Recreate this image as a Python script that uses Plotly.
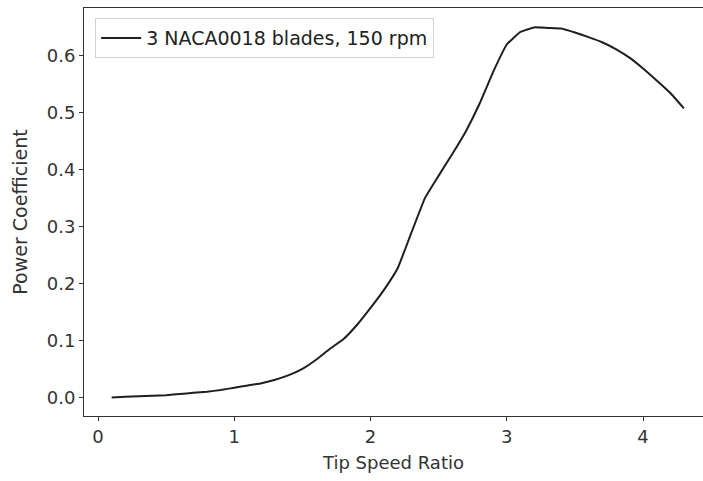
import plotly.graph_objects as go

tsr = [0.1, 0.2, 0.3, 0.4, 0.5, 0.6, 0.7, 0.8, 0.9, 1.0,
       1.1, 1.2, 1.3, 1.4, 1.5, 1.6, 1.7, 1.8, 1.9, 2.0,
       2.1, 2.2, 2.3, 2.4, 2.5, 2.6, 2.7, 2.8, 2.9, 3.0,
       3.1, 3.2, 3.3, 3.4, 3.5, 3.6, 3.7, 3.8, 3.9, 4.0,
       4.1, 4.2, 4.3]
cp = [0.001, 0.002, 0.003, 0.004, 0.005, 0.007, 0.009, 0.011, 0.014, 0.018,
      0.022, 0.026, 0.032, 0.040, 0.051, 0.067, 0.086, 0.103, 0.128, 0.158,
      0.190, 0.228, 0.290, 0.351, 0.390, 0.428, 0.468, 0.516, 0.572, 0.620,
      0.642, 0.650, 0.649, 0.648, 0.641, 0.633, 0.624, 0.612, 0.597, 0.578,
      0.557, 0.535, 0.508]

series_name = "3 NACA0018 blades, 150 rpm"
x_ticks = [0, 1, 2, 3, 4]
y_ticks = [0.0, 0.1, 0.2, 0.3, 0.4, 0.5, 0.6]

font = "DejaVu Sans"
fs = 18
fig = go.Figure()
fig.add_trace(go.Scatter(x=tsr, y=cp, mode="lines", name=series_name,
                         line=dict(color="#1f1f1f", width=2, shape="spline", smoothing=0.3)))

axis_common = dict(showline=True, linecolor="#333", linewidth=1, ticks="outside",
                   ticklen=4, tickcolor="#333", showgrid=False, zeroline=False,
                   tickfont=dict(family=font, size=fs, color="#333"))
fig.update_layout(
    width=703, height=481,
    margin=dict(l=84, r=0, t=8, b=65),
    plot_bgcolor="white", paper_bgcolor="white",
    font=dict(family=font, size=fs, color="#333"),
    showlegend=True,
    legend=dict(x=0.018, y=0.975, xanchor="left", yanchor="top",
                bordercolor="#d0d0d0", borderwidth=1, bgcolor="white",
                itemwidth=40, tracegroupgap=0,
                font=dict(family=font, size=19, color="#222")),
    xaxis=dict(range=[-0.103, 4.44], tickvals=x_ticks,
               ticktext=[str(v) for v in x_ticks], mirror=True,
               title=dict(text="Tip Speed Ratio", font=dict(family=font, size=18, color="#333"), standoff=10),
               **axis_common),
    yaxis=dict(range=[-0.0316, 0.684], tickvals=y_ticks,
               ticktext=[f"{v:.1f}" for v in y_ticks],
               title=dict(text="Power Coefficient", font=dict(family=font, size=19, color="#333"), standoff=14),
               **axis_common),
)
fig.write_html("out.html")
